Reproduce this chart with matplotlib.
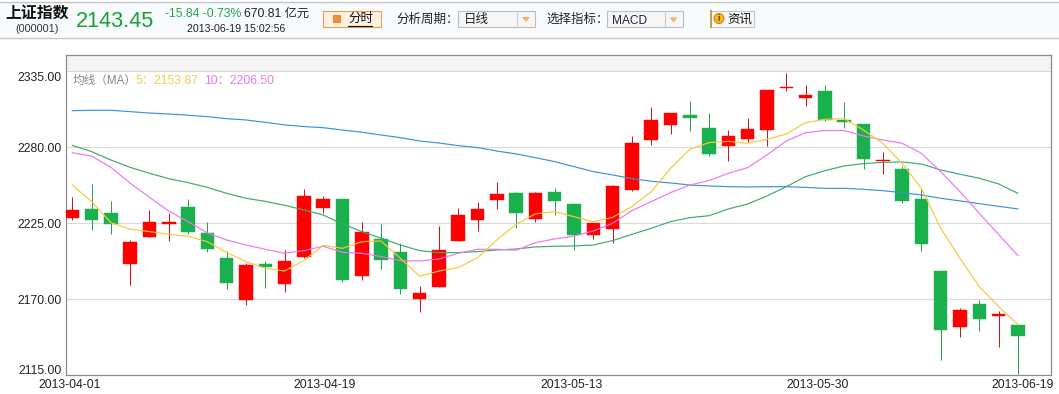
import numpy as np
import matplotlib
matplotlib.use('Agg')
import matplotlib.pyplot as plt
from matplotlib.patches import Rectangle, Circle, Polygon
from matplotlib.transforms import ScaledTranslation

plt.rcParams['font.family'] = ['Liberation Sans', 'Noto Sans CJK SC']

opens = [2228.9, 2235.4, 2232.5, 2195.6, 2215.1, 2224.5, 2236.8, 2218, 2200, 2169.5,
         2195.6, 2181.1, 2200.6, 2236.1, 2242.6, 2186.9, 2213.7, 2204.3, 2170.2, 2179.2,
         2212.5, 2227.4, 2241.9, 2247, 2228.4, 2247.7, 2239, 2216.6, 2220.9, 2249.4,
         2285.3, 2296.2, 2303.4, 2294, 2281, 2286, 2292.5, 2322.9, 2315.9, 2320.8,
         2299.8, 2296.9, 2270.4, 2264.3, 2242.6, 2190.5, 2150, 2166.6, 2158, 2151.2]
closes = [2234.7, 2227.4, 2224.5, 2211.5, 2226, 2226, 2218.7, 2206.4, 2181.8, 2194.9,
          2193.4, 2197.8, 2244.8, 2242.6, 2184, 2218.7, 2198.5, 2177.5, 2174.6, 2205.7,
          2231, 2235.4, 2246.2, 2232.7, 2247, 2241.2, 2216.6, 2225, 2252, 2283.1,
          2299.8, 2304.8, 2301.2, 2275.2, 2288.2, 2293.3, 2321.5, 2323.9, 2317.9, 2299.8,
          2298.3, 2271.6, 2270.8, 2241.2, 2210, 2148, 2162.3, 2155.8, 2159.4, 2143.45]
highs = [2243.8, 2253.5, 2241.4, 2213, 2234.7, 2232.7, 2242.4, 2226.2, 2205, 2196.5,
         2197.8, 2205.7, 2249.9, 2245, 2242.6, 2226, 2224.3, 2210.5, 2179.7, 2222.8,
         2236.1, 2240.2, 2254.9, 2247.7, 2247.7, 2250.6, 2239.7, 2225.2, 2252.5, 2288,
         2308.9, 2304.8, 2313.8, 2304.6, 2292.3, 2301.5, 2321.5, 2333.8, 2325.3, 2325,
         2312.8, 2296.9, 2276.6, 2266.5, 2250.3, 2190.5, 2163.7, 2169.5, 2161.3, 2151.2]
lows = [2227.4, 2220.2, 2217, 2180.6, 2215, 2212.5, 2217.3, 2204.5, 2177.5, 2165.9,
        2178.5, 2175.3, 2200, 2232.2, 2182.8, 2184.2, 2191.7, 2173.9, 2161.1, 2179,
        2212, 2219.5, 2235.4, 2221.4, 2225.7, 2231.3, 2206, 2213.7, 2211, 2248.4,
        2281.7, 2289.6, 2292, 2274, 2270.1, 2283.9, 2281, 2321, 2310.1, 2299,
        2294, 2264.6, 2261, 2240, 2205, 2126.4, 2143, 2147, 2135.7, 2116]

ma5 = [2252.7, 2240.7, 2225.5, 2220.7, 2219, 2217, 2215.6, 2211.7, 2203.8, 2197.3,
       2192.4, 2190.5, 2198, 2209.1, 2206.9, 2211.7, 2212.2, 2199.7, 2186.6, 2190.5,
       2192.9, 2200.2, 2212.9, 2224.3, 2231.8, 2233.4, 2229.8, 2226.2, 2229.3, 2237.1,
       2247.9, 2264.8, 2278.5, 2283.4, 2284.3, 2282.9, 2285.8, 2289.6, 2297.8, 2300.3,
       2300.7, 2292.5, 2282.9, 2268.4, 2250.3, 2221.4, 2199.7, 2179.2, 2164.7, 2151.9]
ma10 = [2276.1, 2273.7, 2265.5, 2254, 2243.8, 2233.9, 2226.2, 2218, 2212.9, 2209.3,
        2206.2, 2203.3, 2205.2, 2208.4, 2204, 2203.3, 2200.9, 2198, 2197.7, 2199.2,
        2203.3, 2206.2, 2206.2, 2205.5, 2211, 2213.7, 2215.8, 2219.5, 2225, 2234.2,
        2240.7, 2247.2, 2252.7, 2255.9, 2261.2, 2265.3, 2274.5, 2284.6, 2290.6, 2292.1,
        2292.1, 2288.2, 2285.3, 2282.9, 2275.7, 2262.4, 2247.9, 2232.2, 2217, 2201.6]
ma20 = [2281.4, 2276.9, 2270.8, 2265.5, 2261.2, 2257.3, 2254.4, 2251, 2246.7, 2243.1,
        2240.9, 2238, 2234.7, 2231, 2224.5, 2219, 2214.2, 2209.3, 2205.2, 2203.8,
        2203.8, 2204.5, 2205.7, 2206.4, 2207.9, 2208.4, 2208.6, 2209.3, 2212.5, 2217,
        2221.4, 2226.2, 2229.1, 2230.5, 2235.4, 2239, 2244.8, 2251.5, 2258.8, 2263.1,
        2266.5, 2268.2, 2269.1, 2269.4, 2267.9, 2263.6, 2260.5, 2257.6, 2253.5, 2246.7]
ma60 = [2306.5, 2306.8, 2306.8, 2305.8, 2304.8, 2304.1, 2303.2, 2302.2, 2300.7, 2299.8,
        2298.1, 2296.2, 2295, 2294.2, 2292.5, 2290.9, 2288.9, 2287, 2284.6, 2283.1,
        2281.2, 2279.8, 2277.3, 2275.2, 2272.5, 2269.6, 2266, 2262.4, 2260, 2257.3,
        2255.4, 2254.2, 2252.7, 2252, 2251.5, 2251.3, 2251.5, 2251.5, 2251, 2250.3,
        2250.3, 2249.6, 2248.6, 2247.2, 2245.5, 2243.1, 2241.2, 2239.2, 2237.3, 2235.4]

y_ticks = [2115, 2170, 2225, 2280, 2335]
y_labels = ['2115.00', '2170.00', '2225.00', '2280.00', '2335.00']
x_labels = ['2013-04-01', '2013-04-19', '2013-05-13', '2013-05-30', '2013-06-19']
x_label_pos = [-0.15, 13.1, 25.85, 38.6, 49.25]

RED, GREEN = '#fe0000', '#1bb04e'
RED_WICK, GREEN_WICK = '#cc1520', '#2f9c58'
W, H = 1059, 394

fig = plt.figure(figsize=(W / 100, H / 100), dpi=100, facecolor='white')
ax = fig.add_axes([66 / W, 1 - 375.3 / H, (1050.7 - 66) / W, (375.3 - 55) / H])

x = np.arange(len(opens))
up = np.array(closes) >= np.array(opens)
colors = [RED if u else GREEN for u in up]
wicks = [RED_WICK if u else GREEN_WICK for u in up]
body_low = np.minimum(opens, closes)
body_h = np.abs(np.array(closes) - np.array(opens))

ax.axhspan(2335, 2346.8, color='#f4f4f4', lw=0, zorder=0)
ax.vlines(x, lows, highs, colors=wicks, lw=0.75, zorder=2)
ax.bar(x, body_h, width=0.7, bottom=body_low, color=colors, edgecolor=colors, lw=0.3, zorder=3)

ax.plot(x, ma60, color='#3d90dc', lw=0.85, zorder=4)
ax.plot(x, ma20, color='#3fa96a', lw=0.85, zorder=4)
ax.plot(x, ma10, color='#ee77ee', lw=0.85, zorder=4)
ax.plot(x, ma5, color='#f8c83c', lw=0.85, zorder=5)

ax.set_xlim(-0.326, 50.7)
ax.set_ylim(2115, 2346.8)
ax.set_yticks(y_ticks)
ax.set_yticklabels(y_labels, fontsize=8.7, color='#222222')
ax.set_xticks(x_label_pos)
ax.set_xticklabels(x_labels, fontsize=8.8, color='#222222')
ax.tick_params(length=0, pad=3)

# first and last y labels sit inside the axis range, not centred on their tick
low_label, high_label = ax.get_yticklabels()[0], ax.get_yticklabels()[-1]
low_label.set_va('bottom')
high_label.set_va('top')
low_label.set_transform(low_label.get_transform() + ScaledTranslation(0, -0.02, fig.dpi_scale_trans))
high_label.set_transform(high_label.get_transform() + ScaledTranslation(0, -0.01, fig.dpi_scale_trans))

ax.grid(axis='y', color='#d9d9d9', lw=0.8)
ax.set_axisbelow(True)
for side in ax.spines.values():
    side.set_color('#8c8c8c')
    side.set_linewidth(0.9)

# page chrome above the chart, in pixel coordinates
top = fig.add_axes([0, 0, 1, 1], facecolor='none')
top.set_xlim(0, W)
top.set_ylim(H, 0)
top.axis('off')


def box(x0, y0, x1, y1, face, edge):
    top.add_patch(Rectangle((x0, y0), x1 - x0, y1 - y0, facecolor=face, edgecolor=edge, lw=0.8))


def label(px, py, s, size, color='#222222', **kw):
    kw.setdefault('va', 'center')
    top.text(px, py, s, fontsize=size, color=color, **kw)


def arrow(cx, cy):
    top.add_patch(Polygon([(cx - 4, cy - 2), (cx + 4, cy - 2), (cx, cy + 3)], facecolor='#f4b070', edgecolor='none'))


top.add_patch(Rectangle((0, 1.5), W, 35.5, facecolor='#f7fbfe', edgecolor='none'))
top.plot([0, W], [1.5, 1.5], color='#c4c4c4', lw=1.0)
top.plot([0, W], [37.5, 37.5], color='#c4c4c4', lw=1.0)

label(5, 13.5, '上证指数', 11.4, color='#111111', fontweight='bold')
label(37.5, 29, '(000001)', 7.8, color='#333333', ha='center')
label(76, 21, '2143.45', 15.6, color='#1f9e35')
label(165, 13.5, '-15.84 -0.73%', 8.8, color='#2aa04a')
label(244, 13.5, '670.81 亿元', 8.8, color='#222222')
label(187, 28.5, '2013-06-19 15:02:56', 7.7, color='#222222')

box(322.5, 10.5, 381, 27, '#fff0e0', '#e8a048')
top.add_patch(Rectangle((333, 15), 7, 7, facecolor='#f08a3c', edgecolor='#e07020', lw=0.5))
label(348, 19, '分时', 9, color='#111111')
top.plot([348, 372], [26, 26], color='#111111', lw=0.8)

label(396.5, 19.5, '分析周期：', 9)
box(457.5, 10.5, 535, 27, '#f6f6f6', '#bdbdbd')
top.plot([516.5, 516.5], [10.5, 27], color='#cccccc', lw=0.8)
arrow(526, 19)
label(464, 19.5, '日线', 9)

label(546.5, 19.5, '选择指标：', 9)
box(606.5, 10.5, 683, 27, '#f6f6f6', '#bdbdbd')
top.plot([665, 665], [10.5, 27], color='#cccccc', lw=0.8)
arrow(673.5, 19.5)
label(612, 20.5, 'MACD', 8.6, color='#222244')

box(710.5, 10.5, 754, 27, '#f8f8f8', '#c4c4c4')
top.plot([710.5, 710.5], [10.5, 27], color='#c89a40', lw=1.4)
top.add_patch(Circle((719, 18.5), 5, facecolor='#f6b820', edgecolor='#c08010', lw=0.7))
label(719, 18.5, 'i', 6.5, color='#6a4a00', ha='center', fontweight='bold')
label(727, 19.5, '资讯', 9, color='#111111')

label(73, 80.5, '均线（MA）', 8.4, color='#888888')
label(136, 81, '5：2153.87', 8.8, color='#f6cc55')
label(204, 81, '10：2206.50', 8.8, color='#e67fe0')

fig.savefig('out.png', dpi=100, facecolor='white')
